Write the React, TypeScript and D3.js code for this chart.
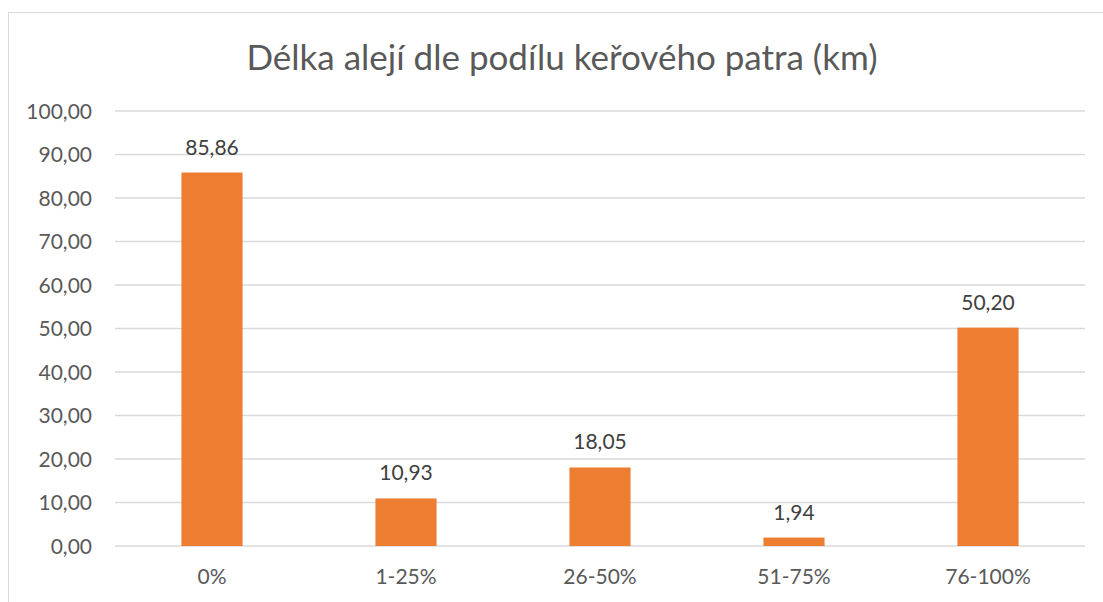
import * as d3 from "d3";

const categories = ["0%", "1-25%", "26-50%", "51-75%", "76-100%"];
const values = [85.86, 10.93, 18.05, 1.94, 50.2];
const yTicks = [0, 10, 20, 30, 40, 50, 60, 70, 80, 90, 100];

const W = 1103;
const H = 602;
const FONT = "Lato, 'Open Sans', sans-serif";
const fmt = (v: number) => v.toFixed(2).replace(".", ",");

export default function App() {
  const x = d3.scaleBand<string>().domain(categories).range([115, 1085]).padding(0);
  const y = d3.scaleLinear().domain([0, 100]).range([546, 111]);
  const barW = x.bandwidth() * 0.315;

  return (
    <svg
      width={W}
      height={H}
      style={{ position: "absolute", left: 0, top: 0, background: "#fff" }}
    >
      <rect x={8.5} y={12.5} width={W + 10} height={H + 10} fill="#fff" stroke="#d9d9d9" />
      <text
        x={562}
        y={70}
        textAnchor="middle"
        fontFamily={FONT}
        fontSize={35}
        fill="#595959"
      >
        Délka alejí dle podílu keřového patra (km)
      </text>

      {yTicks.map((t) => (
        <g key={t}>
          <line x1={115} x2={1085} y1={y(t)} y2={y(t)} stroke="#d9d9d9" strokeWidth={1.5} />
          <text
            x={92}
            y={y(t)}
            dy="0.36em"
            textAnchor="end"
            fontFamily={FONT}
            fontSize={21}
            fill="#595959"
          >
            {fmt(t)}
          </text>
        </g>
      ))}

      {categories.map((c, i) => {
        const cx = (x(c) ?? 0) + x.bandwidth() / 2;
        const v = values[i];
        return (
          <g key={c}>
            <rect x={cx - barW / 2} y={y(v)} width={barW} height={y(0) - y(v)} fill="#ED7D31" />
            <text
              x={cx}
              y={y(v) - 18}
              textAnchor="middle"
              fontFamily={FONT}
              fontSize={21}
              fill="#404040"
            >
              {fmt(v)}
            </text>
            <text
              x={cx}
              y={584}
              textAnchor="middle"
              fontFamily={FONT}
              fontSize={21}
              fill="#595959"
            >
              {c}
            </text>
          </g>
        );
      })}
    </svg>
  );
}
